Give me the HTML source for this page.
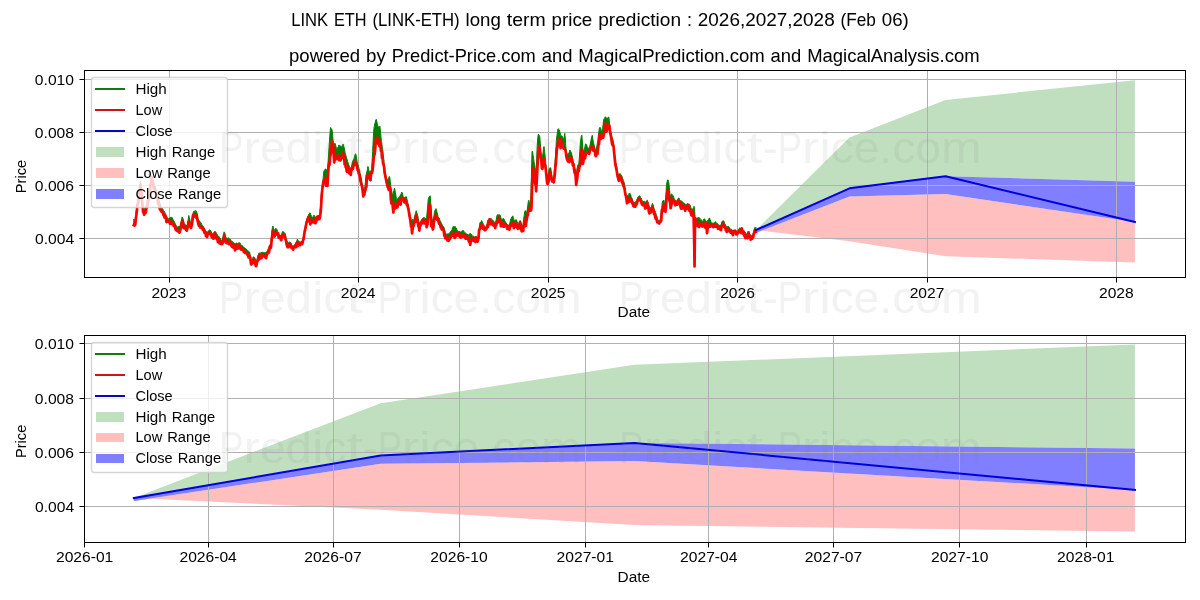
<!DOCTYPE html>
<html lang="en"><head><meta charset="utf-8"><title>LINK ETH (LINK-ETH) long term price prediction</title>
<style>
html,body{margin:0;padding:0;background:#fff;}
body{width:1200px;height:600px;overflow:hidden;}
svg{display:block;font-family:"Liberation Sans",sans-serif;will-change:transform;}
text{white-space:pre;}
</style></head><body>
<svg width="1200" height="600" viewBox="0 0 1200 600">
<rect width="1200" height="600" fill="#fff"/>
<defs>
<clipPath id="c0"><rect x="84.5" y="70.5" width="1101" height="207"/></clipPath>
<clipPath id="c1"><rect x="84.5" y="335.5" width="1101" height="207"/></clipPath>
</defs>
<g clip-path="url(#c0)">
<polygon points="756.09,229.91 849.51,137.43 945.52,99.98 1134.94,80.16 1134.94,181.63 945.52,176.17 849.51,188.36 756.09,229.91" fill="#bfdfbf"/>
<polygon points="756.09,232.83 849.51,196.55 945.52,193.93 1134.94,222.02 1134.94,262.62 945.52,256.25 849.51,241.34 756.09,229.91" fill="#ffbfbf"/>
<polygon points="756.09,229.91 849.51,188.36 945.52,176.17 1134.94,181.63 1134.94,222.02 945.52,193.93 849.51,196.55 756.09,232.83" fill="#7f7fff"/>
<path d="M169.5,71V277M358.5,71V277M548.5,71V277M737.5,71V277M927.5,71V277M1116.5,71V277M85,79.5H1185M85,132.5H1185M85,185.5H1185M85,238.5H1185" stroke="#b0b0b0" stroke-width="1" fill="none" shape-rendering="crispEdges"/>
<polygon points="133.8,219.09 134.32,219.78 134.84,221.24 135.36,219.17 135.88,215.03 136.4,210.65 136.92,206.21 137.43,202.58 137.95,198.73 138.47,195.45 138.99,192.03 139.51,187.82 140.03,184.38 140.55,180.79 141.07,186.21 141.59,191.69 142.11,196.59 142.63,202.41 143.15,207.4 143.66,209.05 144.18,208.61 144.7,208.05 145.22,207.38 145.74,206.16 146.26,205.01 146.78,204.84 147.3,202.35 147.82,199.24 148.34,195.83 148.86,192.71 149.38,189.37 149.9,186.12 150.41,182.35 150.93,179.54 151.45,175.7 151.97,176.35 152.49,178.63 153.01,179.77 153.53,180.9 154.05,183.49 154.57,184.98 155.09,186.69 155.61,188.03 156.13,189.74 156.64,191.39 157.16,193.1 157.68,195.75 158.2,196.95 158.72,198.78 159.24,200.67 159.76,203.34 160.28,204.87 160.8,206.18 161.32,207.07 161.84,208.04 162.36,208.95 162.88,208.86 163.39,210.51 163.91,210.9 164.43,211.53 164.95,212.67 165.47,214.12 165.99,215.5 166.51,215.98 167.03,217.16 167.55,217.72 168.07,219.22 168.59,219.08 169.11,218.01 169.62,218.1 170.14,218.29 170.66,217.14 171.18,217.37 171.7,217.45 172.22,217.51 172.74,218.91 173.26,220.02 173.78,221.27 174.3,221.46 174.82,223.25 175.34,223.92 175.86,225.18 176.37,226.12 176.89,226.78 177.41,227.41 177.93,226.46 178.45,226.42 178.97,226.37 179.49,226.43 180.01,226.63 180.53,223.48 181.05,221.79 181.57,219.24 182.09,216.96 182.6,217.7 183.12,219.16 183.64,221.65 184.16,223.44 184.68,224.3 185.2,224.32 185.72,226.04 186.24,225.52 186.76,225.61 187.28,226.59 187.8,222.84 188.32,218.65 188.84,215.5 189.35,217.84 189.87,219.97 190.39,222.37 190.91,224.14 191.43,221.8 191.95,219.1 192.47,215.97 192.99,213.22 193.51,211.54 194.03,211.45 194.55,210.93 195.07,211.72 195.58,210.56 196.1,210.98 196.62,211.21 197.14,214.24 197.66,216.98 198.18,218.75 198.7,220.36 199.22,220.44 199.74,222.17 200.26,222.15 200.78,222.37 201.3,223.3 201.82,224.63 202.33,225.31 202.85,225.86 203.37,226.14 203.89,227.4 204.41,229.07 204.93,229.28 205.45,230.46 205.97,231.28 206.49,232.25 207.01,232.7 207.53,231.88 208.05,231.21 208.56,230.64 209.08,230.19 209.6,229.75 210.12,229.96 210.64,230.82 211.16,231.55 211.68,233.26 212.2,233.68 212.72,233.93 213.24,233.49 213.76,232.73 214.28,232.15 214.8,231.35 215.31,231.47 215.83,232.22 216.35,233.16 216.87,233.63 217.39,234.79 217.91,235.77 218.43,236.4 218.95,236.48 219.47,237.28 219.99,238.8 220.51,238.65 221.03,239.91 221.54,240.52 222.06,240.84 222.58,238.67 223.1,236.71 223.62,233.95 224.14,231.82 224.66,232.6 225.18,234.9 225.7,237.66 226.22,238.19 226.74,237.87 227.26,238.23 227.78,238.08 228.29,237.66 228.81,238.4 229.33,238.86 229.85,239.2 230.37,239.13 230.89,240.57 231.41,240.98 231.93,241.42 232.45,241.75 232.97,241.64 233.49,242.57 234.01,242.65 234.52,243.96 235.04,243.6 235.56,243.91 236.08,243.03 236.6,243.06 237.12,243.18 237.64,243.51 238.16,243.35 238.68,243.16 239.2,242.3 239.72,243.44 240.24,243.24 240.76,244.65 241.27,245.26 241.79,245.41 242.31,245.99 242.83,245.72 243.35,247.58 243.87,247.28 244.39,248.03 244.91,247.81 245.43,248.52 245.95,248.56 246.47,249.32 246.99,249.84 247.5,250.36 248.02,251.19 248.54,251.3 249.06,251.65 249.58,252.01 250.1,255.09 250.62,256.77 251.14,259.98 251.66,260.05 252.18,259.13 252.7,258.29 253.22,256.79 253.74,256.91 254.25,257.96 254.77,257.73 255.29,259.09 255.81,260.61 256.33,261.07 256.85,259.47 257.37,257.81 257.89,255.81 258.41,254.63 258.93,252.88 259.45,253.02 259.97,253.44 260.48,253.31 261,252.32 261.52,252.55 262.04,252.82 262.56,252.12 263.08,252.09 263.6,252.54 264.12,252.64 264.64,252.62 265.16,252.53 265.68,252.7 266.2,252.84 266.72,251.45 267.23,250.94 267.75,249.61 268.27,248.51 268.79,247.67 269.31,246.34 269.83,245.14 270.35,243.91 270.87,242.85 271.39,238.46 271.91,230.67 272.43,227.35 272.95,225.94 273.46,228.27 273.98,230.29 274.5,230.23 275.02,229.44 275.54,228.55 276.06,228.75 276.58,228.78 277.1,230.01 277.62,231.51 278.14,232.19 278.66,234.52 279.18,235.03 279.7,234.93 280.21,235.98 280.73,236.47 281.25,235.14 281.77,234.14 282.29,231.7 282.81,231.59 283.33,231.82 283.85,231.99 284.37,233.26 284.89,233.19 285.41,233.84 285.93,237.07 286.44,240.64 286.96,241.32 287.48,241.67 288,242.94 288.52,242.65 289.04,242.91 289.56,241.84 290.08,241.93 290.6,242.7 291.12,243.41 291.64,245 292.16,246.08 292.68,245.68 293.19,246.06 293.71,245.98 294.23,245.5 294.75,244.97 295.27,244.28 295.79,242.82 296.31,242.11 296.83,240.82 297.35,239.18 297.87,240.22 298.39,241.07 298.91,240.84 299.42,241.85 299.94,242.02 300.46,242.05 300.98,242.5 301.5,241.27 302.02,241.26 302.54,240.81 303.06,238.84 303.58,235.63 304.1,232.68 304.62,229.45 305.14,226.46 305.66,223.76 306.17,222.06 306.69,219.88 307.21,218.35 307.73,216.22 308.25,215.74 308.77,214.2 309.29,213.87 309.81,212.7 310.33,213.12 310.85,214.76 311.37,216.01 311.89,216.7 312.4,217.23 312.92,217.55 313.44,216.38 313.96,215.09 314.48,215.68 315,216.74 315.52,217.58 316.04,216.68 316.56,216.36 317.08,215.75 317.6,215.82 318.12,216.34 318.64,215.25 319.15,216.62 319.67,214.94 320.19,209.65 320.71,204.18 321.23,195.4 321.75,191.11 322.27,185.77 322.79,182.15 323.31,176.59 323.83,171.58 324.35,170.36 324.87,169.53 325.38,169.08 325.9,169.07 326.42,169.88 326.94,173.13 327.46,171.15 327.98,163.57 328.5,156 329.02,147.62 329.54,140.18 330.06,132.53 330.58,127.45 331.1,128.67 331.62,128.97 332.13,130.15 332.65,135.41 333.17,142.26 333.69,147.24 334.21,144.73 334.73,143.29 335.25,143.58 335.77,145.77 336.29,147.49 336.81,148.66 337.33,148.62 337.85,147.39 338.36,146.82 338.88,144.97 339.4,145.19 339.92,146.34 340.44,145.9 340.96,147.07 341.48,147.23 342,146.12 342.52,145.16 343.04,144.09 343.56,145.23 344.08,147.26 344.6,149.72 345.11,153.06 345.63,154.52 346.15,156.41 346.67,158.41 347.19,159.81 347.71,161.71 348.23,163.1 348.75,165.09 349.27,166.25 349.79,167.57 350.31,170.02 350.83,170.02 351.34,167.54 351.86,164.97 352.38,161.68 352.9,160.86 353.42,159.56 353.94,158.78 354.46,157.1 354.98,154.89 355.5,153.68 356.02,154.89 356.54,158.1 357.06,161.42 357.58,163.91 358.09,165.15 358.61,166.88 359.13,169.21 359.65,170.24 360.17,173.57 360.69,175.63 361.21,178.22 361.73,181.14 362.25,184.17 362.77,185.49 363.29,188.25 363.81,190.21 364.32,191.56 364.84,187.69 365.36,182.39 365.88,177.49 366.4,174.1 366.92,171.54 367.44,169.42 367.96,166.37 368.48,169.04 369,170.67 369.52,172.42 370.04,173.1 370.56,172.44 371.07,170.6 371.59,169.51 372.11,160.81 372.63,151.39 373.15,141.29 373.67,131.29 374.19,126.61 374.71,123.92 375.23,122.57 375.75,120.06 376.27,119.36 376.79,121.39 377.3,123.69 377.82,126.19 378.34,127.08 378.86,126.79 379.38,126.57 379.9,126.1 380.42,131.05 380.94,136.84 381.46,141.55 381.98,145.02 382.5,148.21 383.02,152.13 383.54,156.96 384.05,162.45 384.57,167.3 385.09,171.4 385.61,174.45 386.13,176.42 386.65,179.07 387.17,180.68 387.69,179.86 388.21,178.88 388.73,177.89 389.25,176.42 389.77,177.48 390.28,181.46 390.8,186.66 391.32,189.97 391.84,191.55 392.36,194.45 392.88,195.04 393.4,193.13 393.92,190.25 394.44,188.21 394.96,190.43 395.48,192.64 396,196.3 396.52,199.47 397.03,199.04 397.55,199.09 398.07,198.47 398.59,197.59 399.11,197.81 399.63,196.42 400.15,195.56 400.67,194.42 401.19,193.69 401.71,192.03 402.23,192.99 402.75,194.42 403.26,197.75 403.78,197.94 404.3,197.84 404.82,197.34 405.34,197.12 405.86,196.79 406.38,196.76 406.9,198.83 407.42,201.28 407.94,203.34 408.46,205.91 408.98,208.97 409.5,211.57 410.01,214.71 410.53,216.92 411.05,220.53 411.57,220.44 412.09,220.8 412.61,219.39 413.13,220.36 413.65,220.3 414.17,218.6 414.69,216.15 415.21,214.24 415.73,212.22 416.24,210.67 416.76,212.38 417.28,214.23 417.8,215.99 418.32,218.5 418.84,220.83 419.36,222.98 419.88,225.6 420.4,223.1 420.92,221.86 421.44,219.64 421.96,219.05 422.48,218.38 422.99,218.27 423.51,217.56 424.03,217.2 424.55,217.94 425.07,218.47 425.59,218.29 426.11,218.38 426.63,217.57 427.15,211.93 427.67,206.13 428.19,199.77 428.71,197.44 429.22,196.59 429.74,196.21 430.26,195.79 430.78,204.35 431.3,213.15 431.82,217.93 432.34,219.85 432.86,221.32 433.38,219.38 433.9,216.25 434.42,212.22 434.94,210.45 435.46,209.45 435.97,208.62 436.49,209.7 437.01,212.32 437.53,214.01 438.05,216.66 438.57,217.31 439.09,217.83 439.61,219.79 440.13,220.48 440.65,221.52 441.17,222.66 441.69,223.74 442.2,224.77 442.72,225.82 443.24,226.57 443.76,227.03 444.28,228.21 444.8,230.22 445.32,232.45 445.84,234.37 446.36,234.7 446.88,233.6 447.4,234.1 447.92,233.99 448.44,233.93 448.95,233.67 449.47,232.94 449.99,232.33 450.51,231.6 451.03,231.29 451.55,230.44 452.07,229.56 452.59,227.72 453.11,226.46 453.63,226.65 454.15,226.45 454.67,227.1 455.18,226.45 455.7,227.45 456.22,227.95 456.74,229.3 457.26,230.48 457.78,231.87 458.3,231.27 458.82,231.81 459.34,231.13 459.86,231.61 460.38,231.92 460.9,231.75 461.42,231.67 461.93,231.35 462.45,230.16 462.97,230.7 463.49,230.64 464.01,232.19 464.53,232.18 465.05,232.64 465.57,233.04 466.09,233.48 466.61,233.86 467.13,233.99 467.65,234.87 468.16,235.07 468.68,234.86 469.2,234.18 469.72,234.04 470.24,233.14 470.76,234.7 471.28,233.98 471.8,234.85 472.32,236.11 472.84,236.62 473.36,236.26 473.88,236.3 474.4,236.74 474.91,237.23 475.43,237.38 475.95,236.42 476.47,237.64 476.99,237.6 477.51,236.87 478.03,237.12 478.55,236.06 479.07,228.95 479.59,224.55 480.11,222.34 480.63,222.21 481.14,221.83 481.66,220.47 482.18,221.7 482.7,223.04 483.22,223.76 483.74,224.72 484.26,225.93 484.78,226.53 485.3,227.36 485.82,226.95 486.34,226.65 486.86,224.89 487.38,222.09 487.89,219.96 488.41,219.93 488.93,219.74 489.45,218.46 489.97,219.04 490.49,218.5 491.01,218.23 491.53,219.45 492.05,219.91 492.57,219.85 493.09,220.41 493.61,221.22 494.12,221.93 494.64,222.47 495.16,223.86 495.68,221.62 496.2,220.01 496.72,216.61 497.24,215 497.76,214.57 498.28,214.96 498.8,214.75 499.32,215.01 499.84,214.55 500.36,215.65 500.87,217.68 501.39,219.22 501.91,219.6 502.43,219.37 502.95,218.51 503.47,218.61 503.99,219.07 504.51,220.07 505.03,221.85 505.55,221.86 506.07,222.8 506.59,223.66 507.1,224.09 507.62,224.62 508.14,225.83 508.66,226.19 509.18,225.12 509.7,223.76 510.22,221.37 510.74,218.96 511.26,218.36 511.78,216.96 512.3,216.67 512.82,215.83 513.34,217.44 513.85,219.4 514.37,220.44 514.89,220.84 515.41,219.99 515.93,219.55 516.45,219.84 516.97,221.35 517.49,222.3 518.01,223.85 518.53,225.02 519.05,222.61 519.57,221.23 520.08,220.61 520.6,221.76 521.12,223.5 521.64,225.54 522.16,227.17 522.68,225.88 523.2,222.9 523.72,218.86 524.24,215.31 524.76,211.87 525.28,210.54 525.8,211.61 526.32,212.31 526.83,212.68 527.35,209.14 527.87,205.01 528.39,201.12 528.91,200.28 529.43,203.03 529.95,205.11 530.47,207.79 530.99,192.07 531.51,172.14 532.03,151.37 532.55,151.36 533.06,155.19 533.58,158.7 534.1,162.21 534.62,164.46 535.14,167.88 535.66,170.52 536.18,172.13 536.7,158.7 537.22,145.99 537.74,138.19 538.26,134.31 538.78,134.45 539.3,135.46 539.81,136.76 540.33,143.55 540.85,151.06 541.37,155.13 541.89,156.75 542.41,157.38 542.93,153.58 543.45,149.38 543.97,146.51 544.49,151.18 545.01,155.08 545.53,160.16 546.04,166.47 546.56,172.27 547.08,174.45 547.6,176.14 548.12,174.84 548.64,171.71 549.16,168.81 549.68,167.9 550.2,168.11 550.72,167.65 551.24,171.63 551.76,175.43 552.28,178.36 552.79,178.47 553.31,178.6 553.83,177.93 554.35,171.19 554.87,163.64 555.39,156.57 555.91,148.4 556.43,140.55 556.95,135.56 557.47,131.75 557.99,128.75 558.51,129.09 559.02,129.44 559.54,131.03 560.06,132.6 560.58,135.44 561.1,135.8 561.62,135.92 562.14,135.91 562.66,137.78 563.18,138.38 563.7,139.5 564.22,136.58 564.74,133.33 565.26,137.83 565.77,145.88 566.29,152.18 566.81,153.54 567.33,154.12 567.85,154.32 568.37,154.77 568.89,152.79 569.41,151.94 569.93,150.11 570.45,150.98 570.97,151.97 571.49,152.71 572,155.34 572.52,157.28 573.04,160.77 573.56,163.06 574.08,165.62 574.6,167.45 575.12,168.97 575.64,171.25 576.16,171.76 576.68,171.59 577.2,167.76 577.72,165.2 578.24,164.48 578.75,163.76 579.27,159.4 579.79,151.41 580.31,142.8 580.83,139.15 581.35,136.08 581.87,135.18 582.39,142.08 582.91,149.08 583.43,151.97 583.95,150.66 584.47,149.06 584.98,146.61 585.5,143.97 586.02,143.9 586.54,144.92 587.06,146.19 587.58,147.61 588.1,147.78 588.62,148.59 589.14,148.09 589.66,146.89 590.18,144.35 590.7,141.81 591.22,139.12 591.73,137 592.25,135.33 592.77,138.52 593.29,142.06 593.81,143.9 594.33,145.72 594.85,148.34 595.37,150.19 595.89,152.36 596.41,149.02 596.93,145.61 597.45,142.76 597.96,139.38 598.48,134.71 599,130.5 599.52,127.58 600.04,127.46 600.56,127.84 601.08,129.97 601.6,132.42 602.12,133.9 602.64,128.86 603.16,123.81 603.68,119.43 604.2,118.63 604.71,117.93 605.23,116.81 605.75,116.99 606.27,118.52 606.79,118.18 607.31,118.47 607.83,117.81 608.35,117.05 608.87,117.28 609.39,121.8 609.91,126.39 610.43,129.78 610.94,132.66 611.46,135.34 611.98,137.24 612.5,138.45 613.02,140.03 613.54,141.98 614.06,147.62 614.58,154.29 615.1,158.22 615.62,161.23 616.14,163.94 616.66,165.71 617.18,169.88 617.69,172.82 618.21,175.23 618.73,174.64 619.25,173.82 619.77,174.03 620.29,173.6 620.81,174.56 621.33,175.46 621.85,175.79 622.37,177.84 622.89,179.04 623.41,180.59 623.92,182.06 624.44,183.2 624.96,187.4 625.48,190.97 626,195.45 626.52,195.02 627.04,195.24 627.56,196.03 628.08,196.35 628.6,194.78 629.12,193.26 629.64,193.76 630.16,193.39 630.67,194.72 631.19,196.76 631.71,197.63 632.23,198.85 632.75,200.89 633.27,201.67 633.79,202.26 634.31,202.29 634.83,202.8 635.35,202.76 635.87,201.13 636.39,200.88 636.9,199.26 637.42,198.52 637.94,197.04 638.46,196.85 638.98,196.24 639.5,195.63 640.02,196.24 640.54,197.48 641.06,198.18 641.58,199.13 642.1,200.81 642.62,200.96 643.14,201.6 643.65,201.5 644.17,201.16 644.69,201.56 645.21,202.03 645.73,202.16 646.25,201.25 646.77,200.52 647.29,200.14 647.81,201.71 648.33,203.14 648.85,204.81 649.37,206.99 649.88,207.41 650.4,207.99 650.92,207.82 651.44,206.81 651.96,204.93 652.48,203.24 653,204.61 653.52,206.3 654.04,208.58 654.56,210.22 655.08,210.99 655.6,212.4 656.12,214.15 656.63,215.59 657.15,218 657.67,219.78 658.19,220.2 658.71,220.31 659.23,220.75 659.75,221.15 660.27,218.55 660.79,215.56 661.31,212.67 661.83,207.31 662.35,201.85 662.86,200.77 663.38,200.87 663.9,200.04 664.42,202.94 664.94,204.47 665.46,203.57 665.98,194.49 666.5,184.54 667.02,182.23 667.54,180.03 668.06,179.77 668.58,181.53 669.1,184.81 669.61,190.67 670.13,196.21 670.65,195.7 671.17,194.61 671.69,193.76 672.21,194.67 672.73,195.27 673.25,195.96 673.77,197.4 674.29,199.19 674.81,200.88 675.33,199.8 675.84,201.5 676.36,201.5 676.88,201.1 677.4,199.7 677.92,198.93 678.44,198.02 678.96,197.9 679.48,199.46 680,200 680.52,201.07 681.04,201.06 681.56,201.02 682.08,201.36 682.59,202.04 683.11,202.39 683.63,203.05 684.15,203.12 684.67,203.45 685.19,204.21 685.71,204.43 686.23,204.57 686.75,204.7 687.27,203.75 687.79,203.7 688.31,204.39 688.82,203.95 689.34,204.13 689.86,204.63 690.38,206 690.9,207.56 691.42,209.33 691.94,209.17 692.46,208.69 692.98,209.69 693.5,208.5 694.02,206.25 694.54,209.22 695.06,217 695.57,218.29 696.09,217.74 696.61,218.7 697.13,218.27 697.65,217.65 698.17,217.52 698.69,217.6 699.21,217.72 699.73,217.99 700.25,219.11 700.77,219.64 701.29,219.65 701.8,221.03 702.32,221.79 702.84,221.66 703.36,219.67 703.88,219.01 704.4,218.76 704.92,219.3 705.44,220.46 705.96,221.37 706.48,221.38 707,221.67 707.52,220.45 708.04,219.8 708.55,219.55 709.07,218.28 709.59,218 710.11,219.6 710.63,220.97 711.15,222.26 711.67,222.8 712.19,223.25 712.71,223.07 713.23,223.39 713.75,222.68 714.27,222.78 714.78,222.38 715.3,221.61 715.82,221.96 716.34,223.46 716.86,223.58 717.38,223.47 717.9,223.71 718.42,224.59 718.94,225.52 719.46,225.3 719.98,225.81 720.5,225.41 721.02,224.52 721.53,223.48 722.05,221.25 722.57,221.11 723.09,220.77 723.61,220.85 724.13,221.69 724.65,223.43 725.17,224.23 725.69,225.54 726.21,226.93 726.73,226.81 727.25,226.87 727.76,226.28 728.28,226.13 728.8,226.94 729.32,227.54 729.84,227.85 730.36,229.55 730.88,229.47 731.4,229.42 731.92,229.44 732.44,230.61 732.96,230.79 733.48,230.17 734,230.55 734.51,229.83 735.03,230.1 735.55,229.77 736.07,230.8 736.59,231.5 737.11,231.39 737.63,230.76 738.15,229.99 738.67,229.13 739.19,228.74 739.71,227.72 740.23,228.77 740.74,228.07 741.26,228.47 741.78,227.56 742.3,229.3 742.82,229.55 743.34,230.29 743.86,230.52 744.38,231.93 744.9,232.17 745.42,232.81 745.94,233.9 746.46,234.46 746.98,233.75 747.49,233 748.01,232.67 748.53,231.26 749.05,233.48 749.57,233.95 750.09,234.34 750.61,235.17 751.13,235.12 751.65,235.38 752.17,235.79 752.69,235.68 753.21,233.82 753.72,231.14 754.24,229.26 754.76,227.53 755.28,228.01 755.8,227.34 755.8,231.99 755.28,230.51 754.76,230.91 754.24,233.2 753.72,233.62 753.21,237.32 752.69,237.61 752.17,238.85 751.65,239.06 751.13,237.65 750.61,239.59 750.09,235.9 749.57,236.96 749.05,237.02 748.53,232.26 748.01,236.24 747.49,238.32 746.98,237.04 746.46,237.24 745.94,237.28 745.42,238.15 744.9,233.35 744.38,236.19 743.86,231.9 743.34,234.01 742.82,231.42 742.3,231.69 741.78,228.56 741.26,233.1 740.74,229.91 740.23,232.04 739.71,230.32 739.19,231.6 738.67,232.3 738.15,233.14 737.63,233.08 737.11,234.35 736.59,234.3 736.07,234.37 735.55,231.42 735.03,232.14 734.51,231.28 734,231.67 733.48,231.17 732.96,235.11 732.44,233.85 731.92,233 731.4,232.72 730.88,232.73 730.36,232.21 729.84,231.22 729.32,229.74 728.8,230.35 728.28,230.34 727.76,231.26 727.25,229.12 726.73,231.92 726.21,230 725.69,230.04 725.17,226.92 724.65,225.75 724.13,227.08 723.61,226.29 723.09,225.37 722.57,223.68 722.05,225.9 721.53,226.05 721.02,230.18 720.5,229.07 719.98,229.42 719.46,229.1 718.94,228.13 718.42,227.43 717.9,228.62 717.38,226.6 716.86,226.65 716.34,226.5 715.82,224.59 715.3,226.73 714.78,226.53 714.27,225.76 713.75,226.97 713.23,227.15 712.71,224.95 712.19,226.05 711.67,226.22 711.15,225.89 710.63,225.98 710.11,226.59 709.59,224.42 709.07,226.9 708.55,225.05 708.04,227.45 707.52,229.55 707,233.26 706.48,223.31 705.96,228.24 705.44,222.91 704.92,227.4 704.4,226.01 703.88,226.11 703.36,223.78 702.84,224 702.32,226.45 701.8,225.73 701.29,224.84 700.77,224.17 700.25,223.25 699.73,224.09 699.21,226.98 698.69,226.93 698.17,225.16 697.65,225.94 697.13,224.47 696.61,221.73 696.09,220.36 695.57,219.54 695.06,218.37 694.54,266.4 694.02,232.59 693.5,213.47 692.98,216.16 692.46,210.97 691.94,214.11 691.42,215.47 690.9,213.49 690.38,210.61 689.86,209.69 689.34,210.8 688.82,207.72 688.31,209.13 687.79,204.73 687.27,208.49 686.75,208.56 686.23,208.25 685.71,208.04 685.19,210.83 684.67,209.28 684.15,207.01 683.63,205.89 683.11,205.46 682.59,207.02 682.08,208.64 681.56,206.2 681.04,208.63 680.52,206.93 680,203.19 679.48,204.5 678.96,201.06 678.44,201.07 677.92,200.78 677.4,202.01 676.88,204.66 676.36,204.82 675.84,203.73 675.33,205.36 674.81,204.09 674.29,202.06 673.77,202 673.25,200.2 672.73,201.24 672.21,199.22 671.69,203.63 671.17,205.86 670.65,208.27 670.13,202.08 669.61,201.35 669.1,198.73 668.58,192.03 668.06,190.76 667.54,189.84 667.02,193.97 666.5,198.08 665.98,207.3 665.46,211.77 664.94,211.11 664.42,209.89 663.9,204.3 663.38,205.27 662.86,209.62 662.35,211.59 661.83,210.12 661.31,220.22 660.79,221.66 660.27,221.82 659.75,222.27 659.23,223.61 658.71,223.11 658.19,222.23 657.67,221.7 657.15,222.28 656.63,219.01 656.12,217.3 655.6,218.7 655.08,216.43 654.56,214.32 654.04,214.05 653.52,209.74 653,210.12 652.48,206.4 651.96,207.89 651.44,209.62 650.92,212.45 650.4,212.42 649.88,210.85 649.37,213.39 648.85,211.62 648.33,207.71 647.81,206.48 647.29,203.1 646.77,207.41 646.25,207.91 645.73,207.87 645.21,208.54 644.69,205.64 644.17,204.27 643.65,204.11 643.14,204.1 642.62,205.16 642.1,204.5 641.58,203.5 641.06,201.38 640.54,199.29 640.02,199.73 639.5,200.04 638.98,198.53 638.46,200.12 637.94,199.93 637.42,201.45 636.9,203.72 636.39,204.69 635.87,203.76 635.35,206.52 634.83,205.73 634.31,206.56 633.79,206.37 633.27,205.74 632.75,204.01 632.23,202.84 631.71,200.37 631.19,200.94 630.67,200.39 630.16,201.46 629.64,197.81 629.12,199.57 628.6,202.02 628.08,200.56 627.56,200.89 627.04,203.25 626.52,199.47 626,196.45 625.48,194.91 624.96,191.73 624.44,188.3 623.92,187.2 623.41,185.61 622.89,184.03 622.37,182.65 621.85,181.87 621.33,179.29 620.81,177.45 620.29,176.41 619.77,176.8 619.25,179.6 618.73,180.82 618.21,178.2 617.69,176.73 617.18,173.76 616.66,170.65 616.14,168.03 615.62,165.73 615.1,162.65 614.58,156.92 614.06,152.05 613.54,146.64 613.02,144.88 612.5,145.09 611.98,143.61 611.46,139.88 610.94,136.12 610.43,133.89 609.91,130.5 609.39,125.96 608.87,125.1 608.35,125.45 607.83,129.05 607.31,127.93 606.79,131.13 606.27,131.68 605.75,128.19 605.23,123.42 604.71,128.52 604.2,132.71 603.68,135.46 603.16,137.81 602.64,137.91 602.12,137.1 601.6,135.96 601.08,134.85 600.56,139.23 600.04,133.75 599.52,136.03 599,144.35 598.48,144.53 597.96,149.92 597.45,153.96 596.93,152.69 596.41,154.85 595.89,156.15 595.37,155.47 594.85,150.6 594.33,150.11 593.81,147.67 593.29,150.76 592.77,147.83 592.25,146.19 591.73,147.21 591.22,149.24 590.7,147.43 590.18,148.8 589.66,152.17 589.14,153.88 588.62,152.09 588.1,152.79 587.58,152.08 587.06,152.83 586.54,152.62 586.02,152.93 585.5,155.64 584.98,158.44 584.47,153.81 583.95,158.61 583.43,160.91 582.91,163.89 582.39,155.41 581.87,149.49 581.35,149.85 580.83,156.8 580.31,164.55 579.79,165.99 579.27,167.62 578.75,171.25 578.24,168.2 577.72,172.84 577.2,178.8 576.68,181.43 576.16,184.95 575.64,176.13 575.12,172.18 574.6,172.69 574.08,169.05 573.56,164.06 573.04,165.69 572.52,163.01 572,159.76 571.49,157.99 570.97,159.84 570.45,157.4 569.93,159.72 569.41,162.2 568.89,159.73 568.37,158.28 567.85,161.43 567.33,159.66 566.81,158.8 566.29,155.95 565.77,151.84 565.26,149.73 564.74,149.03 564.22,148.66 563.7,148.51 563.18,147.59 562.66,145.91 562.14,143.6 561.62,144.45 561.1,141.22 560.58,148.2 560.06,140.06 559.54,138.57 559.02,138.25 558.51,141.23 557.99,142.89 557.47,147.38 556.95,148.31 556.43,156.09 555.91,162.82 555.39,167.36 554.87,173.39 554.35,177.97 553.83,182.26 553.31,181.7 552.79,180.96 552.28,181.45 551.76,180.02 551.24,176.95 550.72,174.46 550.2,171.63 549.68,173.64 549.16,176.09 548.64,181.48 548.12,182.81 547.6,184.22 547.08,182.38 546.56,177.36 546.04,172.43 545.53,167.08 545.01,164.69 544.49,163.86 543.97,158.92 543.45,162.79 542.93,165.33 542.41,168.91 541.89,168.23 541.37,160.72 540.85,158.07 540.33,153.36 539.81,152.03 539.3,146.33 538.78,147.85 538.26,151.13 537.74,161.88 537.22,172.13 536.7,181.42 536.18,191.28 535.66,183.63 535.14,183.82 534.62,180.16 534.1,176.43 533.58,174.31 533.06,167.51 532.55,173.37 532.03,187.71 531.51,207.13 530.99,210.62 530.47,209.58 529.95,210.68 529.43,210.61 528.91,211.32 528.39,208.49 527.87,215.57 527.35,215.36 526.83,218.97 526.32,221.83 525.8,226.03 525.28,220.07 524.76,219.9 524.24,223.41 523.72,226.18 523.2,231 522.68,228.2 522.16,229.7 521.64,231.36 521.12,228.23 520.6,225.7 520.08,222.16 519.57,225.02 519.05,228.4 518.53,226.21 518.01,228.82 517.49,227.69 516.97,227.63 516.45,224.65 515.93,223.6 515.41,225.98 514.89,226.9 514.37,225.03 513.85,228.26 513.34,222.22 512.82,222.69 512.3,222.28 511.78,223.8 511.26,225.98 510.74,224.61 510.22,224.87 509.7,229.17 509.18,229.58 508.66,227.19 508.14,228.05 507.62,225.86 507.1,228.86 506.59,226.27 506.07,224.45 505.55,224.84 505.03,225.94 504.51,225.15 503.99,226.72 503.47,225.16 502.95,222.67 502.43,223.46 501.91,226.37 501.39,225.35 500.87,226.25 500.36,221.29 499.84,220.53 499.32,221.39 498.8,217.65 498.28,222.08 497.76,221.37 497.24,221.16 496.72,222.45 496.2,225.57 495.68,224.66 495.16,228.06 494.64,225.74 494.12,225.86 493.61,223.7 493.09,225.29 492.57,222.91 492.05,222.48 491.53,222.25 491.01,224.24 490.49,223.49 489.97,222.48 489.45,219.46 488.93,223.12 488.41,225.29 487.89,227.08 487.38,225.29 486.86,226.83 486.34,229.11 485.82,229.64 485.3,229.44 484.78,230.34 484.26,227.72 483.74,229.06 483.22,228.74 482.7,228.32 482.18,227.42 481.66,224.61 481.14,224.54 480.63,226.52 480.11,228.56 479.59,229.67 479.07,229.95 478.55,238.24 478.03,240.28 477.51,241.67 476.99,238.73 476.47,238.64 475.95,237.42 475.43,242.04 474.91,239.22 474.4,240.67 473.88,239.73 473.36,240.99 472.84,239.02 472.32,237.78 471.8,239.66 471.28,239.93 470.76,241.39 470.24,244.88 469.72,242.42 469.2,241.9 468.68,240.91 468.16,238.3 467.65,237.02 467.13,236.65 466.61,238.7 466.09,237.75 465.57,238.61 465.05,236.85 464.53,234.89 464.01,235.64 463.49,234.6 462.97,236.62 462.45,235.21 461.93,236.98 461.42,235.51 460.9,235.5 460.38,237.65 459.86,234.48 459.34,236.43 458.82,234.48 458.3,235.5 457.78,234.78 457.26,232.05 456.74,235.31 456.22,236.33 455.7,235.79 455.18,237.22 454.67,237.94 454.15,235.19 453.63,233.55 453.11,234.6 452.59,232.51 452.07,236.01 451.55,234.75 451.03,237.06 450.51,236.4 449.99,239.01 449.47,237.27 448.95,240.41 448.44,240.88 447.92,238.02 447.4,240.37 446.88,236.83 446.36,236.58 445.84,237.49 445.32,238.36 444.8,235.31 444.28,235.61 443.76,230.89 443.24,230.14 442.72,228.01 442.2,227.84 441.69,229.34 441.17,227.23 440.65,227.62 440.13,224.61 439.61,223.74 439.09,223.71 438.57,222.16 438.05,219.11 437.53,219.14 437.01,219.64 436.49,218.21 435.97,219.01 435.46,215.11 434.94,217.23 434.42,217.9 433.9,222.4 433.38,227.24 432.86,229.52 432.34,227.27 431.82,224.35 431.3,226.26 430.78,215.15 430.26,206.17 429.74,204.15 429.22,206.91 428.71,211.39 428.19,217.21 427.67,224.25 427.15,225.11 426.63,227.24 426.11,221.04 425.59,222.22 425.07,221.39 424.55,223.37 424.03,222.17 423.51,220.26 422.99,219.67 422.48,222.97 421.96,223.42 421.44,221.87 420.92,223.04 420.4,225.84 419.88,226.6 419.36,230.63 418.84,227.5 418.32,225.98 417.8,222.89 417.28,220.23 416.76,220.64 416.24,215.51 415.73,216.38 415.21,221.84 414.69,222.18 414.17,223.66 413.65,225.87 413.13,225.79 412.61,229.07 412.09,233.46 411.57,226.55 411.05,226.71 410.53,221.58 410.01,218.33 409.5,216.11 408.98,212.47 408.46,209.41 407.94,207.55 407.42,204.66 406.9,205.03 406.38,203.4 405.86,201.57 405.34,200.06 404.82,199.94 404.3,202.4 403.78,198.94 403.26,199.77 402.75,198.48 402.23,197.8 401.71,198.53 401.19,200.72 400.67,204.68 400.15,199.16 399.63,200.81 399.11,200.71 398.59,202.62 398.07,204.83 397.55,207.24 397.03,206.08 396.52,203.85 396,207.7 395.48,204.97 394.96,206.73 394.44,209.09 393.92,203.89 393.4,212.51 392.88,208.05 392.36,202.24 391.84,202.86 391.32,203.44 390.8,198.31 390.28,189.01 389.77,187.11 389.25,189.87 388.73,189.91 388.21,187.3 387.69,187.28 387.17,184.54 386.65,182.68 386.13,180.02 385.61,177.8 385.09,174.9 384.57,172.46 384.05,166.8 383.54,164.49 383.02,163.31 382.5,156.54 381.98,157.86 381.46,150.37 380.94,150.83 380.42,145.01 379.9,141.51 379.38,146.09 378.86,144.63 378.34,143.8 377.82,142.23 377.3,137.74 376.79,138.6 376.27,137.66 375.75,141.2 375.23,148.8 374.71,153.91 374.19,155.16 373.67,158.34 373.15,164.92 372.63,169.91 372.11,172.78 371.59,173.47 371.07,171.99 370.56,180.15 370.04,179.67 369.52,177.46 369,176.86 368.48,177.78 367.96,175.53 367.44,178.63 366.92,175.52 366.4,186.88 365.88,187.46 365.36,190.37 364.84,191.17 364.32,194.81 363.81,194.28 363.29,196.3 362.77,191.83 362.25,187.74 361.73,185.38 361.21,183.98 360.69,181.64 360.17,179.58 359.65,175.11 359.13,174.68 358.61,173.03 358.09,170.37 357.58,170.2 357.06,165.95 356.54,165.51 356.02,163.98 355.5,164.94 354.98,161.19 354.46,164.15 353.94,163.98 353.42,165.85 352.9,168.96 352.38,166.99 351.86,170.04 351.34,168.54 350.83,174.92 350.31,173.7 349.79,172.77 349.27,173.37 348.75,170.67 348.23,167.09 347.71,167.74 347.19,171.91 346.67,171.2 346.15,166.79 345.63,167.21 345.11,161.65 344.6,164.47 344.08,155.31 343.56,157.46 343.04,156.93 342.52,152.62 342,158.1 341.48,156.27 340.96,159.04 340.44,160.45 339.92,158.29 339.4,157.55 338.88,160.14 338.36,154.29 337.85,157.8 337.33,155.94 336.81,158.75 336.29,156.75 335.77,156.04 335.25,159.39 334.73,160.08 334.21,162.42 333.69,154.99 333.17,145.04 332.65,143.89 332.13,141.05 331.62,144.78 331.1,150.84 330.58,154.44 330.06,157.64 329.54,164.97 329.02,163.12 328.5,168.33 327.98,176.35 327.46,185.86 326.94,183.82 326.42,180.02 325.9,185.58 325.38,177.83 324.87,180.49 324.35,181.8 323.83,180.76 323.31,182.18 322.79,185.64 322.27,189.85 321.75,194.53 321.23,204.44 320.71,212.1 320.19,215.52 319.67,218.76 319.15,219.08 318.64,216.47 318.12,219.27 317.6,219.35 317.08,217.02 316.56,219.74 316.04,222.3 315.52,223.15 315,219.49 314.48,222.75 313.96,221.83 313.44,221.41 312.92,220.45 312.4,220.72 311.89,222.47 311.37,221.37 310.85,220.52 310.33,224.31 309.81,219.57 309.29,219.14 308.77,216.88 308.25,219.54 307.73,218.64 307.21,221.86 306.69,221.74 306.17,224.55 305.66,227.63 305.14,229.41 304.62,231.86 304.1,235.4 303.58,239.45 303.06,240.25 302.54,242.9 302.02,244.13 301.5,242.72 300.98,243.5 300.46,244.74 299.94,245.2 299.42,244.83 298.91,243.54 298.39,243.01 297.87,246.14 297.35,242.13 296.83,242.89 296.31,245.22 295.79,247.3 295.27,245.28 294.75,246.65 294.23,246.5 293.71,246.98 293.19,249.63 292.68,247.76 292.16,247.41 291.64,248.07 291.12,246.68 290.6,244 290.08,244.91 289.56,245.47 289.04,244.58 288.52,247.22 288,245.51 287.48,247 286.96,245.59 286.44,243.2 285.93,239.46 285.41,239.33 284.89,236.74 284.37,236.28 283.85,236.08 283.33,233.87 282.81,234.36 282.29,237.19 281.77,237.83 281.25,240.2 280.73,239.4 280.21,237.01 279.7,235.93 279.18,236.81 278.66,237.59 278.14,233.19 277.62,234.39 277.1,233.3 276.58,234.41 276.06,234.27 275.54,232.96 275.02,235.01 274.5,236.58 273.98,234.93 273.46,234.12 272.95,230.75 272.43,234.8 271.91,237.74 271.39,242.99 270.87,247.93 270.35,247.96 269.83,246.52 269.31,250.91 268.79,252.61 268.27,253.01 267.75,253.38 267.23,253.33 266.72,255.16 266.2,258.13 265.68,257.02 265.16,257.36 264.64,256.45 264.12,256.27 263.6,256.22 263.08,254.55 262.56,256.03 262.04,255.62 261.52,258.22 261,255.41 260.48,258.05 259.97,257.42 259.45,259.25 258.93,255.54 258.41,258.86 257.89,260.76 257.37,261.14 256.85,262.74 256.33,265.99 255.81,266.22 255.29,264.06 254.77,262.48 254.25,262.38 253.74,259.31 253.22,260.79 252.7,263.14 252.18,263.48 251.66,263.91 251.14,264.51 250.62,261.1 250.1,257.19 249.58,255.82 249.06,255.39 248.54,257.41 248.02,255.03 247.5,255.11 246.99,253.69 246.47,253.55 245.95,252.33 245.43,251.93 244.91,252.8 244.39,251.4 243.87,252.04 243.35,250.39 242.83,248.84 242.31,249.53 241.79,248.67 241.27,249.72 240.76,248.56 240.24,248.65 239.72,246.7 239.2,245.37 238.68,245.36 238.16,248.53 237.64,245.26 237.12,247.65 236.6,248.74 236.08,248.47 235.56,245.4 235.04,250.46 234.52,244.96 234.01,246.06 233.49,247.98 232.97,245.25 232.45,246.08 231.93,246.71 231.41,244.52 230.89,245.31 230.37,242.24 229.85,241.19 229.33,243.21 228.81,244.14 228.29,242.78 227.78,242.88 227.26,241.8 226.74,243.23 226.22,240.75 225.7,242.54 225.18,240.45 224.66,236.5 224.14,234.81 223.62,239.55 223.1,240.63 222.58,243.36 222.06,244.03 221.54,243.39 221.03,242.42 220.51,243.83 219.99,241.58 219.47,243.19 218.95,241.74 218.43,238.62 217.91,242.03 217.39,239.45 216.87,236.99 216.35,238.6 215.83,238.11 215.31,236.77 214.8,233.15 214.28,238.1 213.76,238.19 213.24,238.56 212.72,238.31 212.2,235.72 211.68,237 211.16,234.09 210.64,234.68 210.12,233.03 209.6,232.98 209.08,233.29 208.56,232.99 208.05,233.75 207.53,235.1 207.01,236.99 206.49,235.87 205.97,236.18 205.45,232.24 204.93,231.97 204.41,232.71 203.89,229.27 203.37,229.17 202.85,229.78 202.33,228.24 201.82,227.82 201.3,226.88 200.78,227.38 200.26,227.61 199.74,226.23 199.22,225.77 198.7,225.51 198.18,223.33 197.66,220.98 197.14,219.01 196.62,214.56 196.1,214.52 195.58,217.33 195.07,214.49 194.55,214.9 194.03,215.61 193.51,215.96 192.99,215.39 192.47,220.67 191.95,224.31 191.43,226.39 190.91,228.01 190.39,225.63 189.87,226.19 189.35,222.08 188.84,221.5 188.32,222.27 187.8,227.5 187.28,228.65 186.76,230.6 186.24,230.23 185.72,228.34 185.2,228.48 184.68,228.3 184.16,228.21 183.64,228 183.12,223.16 182.6,220.44 182.09,221.51 181.57,223.79 181.05,226.85 180.53,228.89 180.01,231.24 179.49,232.56 178.97,232.44 178.45,230.62 177.93,230.43 177.41,231.1 176.89,229.61 176.37,230.33 175.86,229.98 175.34,228.73 174.82,224.74 174.3,225.77 173.78,225.97 173.26,224.52 172.74,222.89 172.22,224.08 171.7,223.13 171.18,221.73 170.66,221.5 170.14,223.99 169.62,220.9 169.11,222.26 168.59,221.58 168.07,221.65 167.55,220.99 167.03,220.59 166.51,222.15 165.99,218.86 165.47,215.57 164.95,216.44 164.43,217.36 163.91,214.96 163.39,214.92 162.88,211.73 162.36,212.36 161.84,211.8 161.32,211.5 160.8,210.53 160.28,208.96 159.76,209.18 159.24,204.27 158.72,203.39 158.2,203.99 157.68,199.79 157.16,195.19 156.64,193.44 156.13,192.78 155.61,192.77 155.09,190.17 154.57,189.78 154.05,186.66 153.53,187.61 153.01,185.57 152.49,180.58 151.97,179.59 151.45,177.4 150.93,183.96 150.41,184.55 149.9,191.26 149.38,192.32 148.86,196.04 148.34,201.19 147.82,200.34 147.3,206.01 146.78,206.99 146.26,209.53 145.74,212.9 145.22,210.66 144.7,212.12 144.18,214.77 143.66,211.58 143.15,212.37 142.63,206.64 142.11,201.64 141.59,193.6 141.07,189.57 140.55,184.55 140.03,189.13 139.51,191.92 138.99,194.98 138.47,200.14 137.95,204.29 137.43,204.46 136.92,210.28 136.4,214.7 135.88,218.13 135.36,224.05 134.84,225.42 134.32,223.68 133.8,225.26" fill="#008000" stroke="#008000" stroke-width="1" stroke-linejoin="round"/>
<polyline points="133.8,225.26 134.32,223.68 134.84,225.42 135.36,224.05 135.88,218.13 136.4,214.7 136.92,210.28 137.43,204.46 137.95,204.29 138.47,200.14 138.99,194.98 139.51,191.92 140.03,189.13 140.55,184.55 141.07,189.57 141.59,193.6 142.11,201.64 142.63,206.64 143.15,212.37 143.66,211.58 144.18,214.77 144.7,212.12 145.22,210.66 145.74,212.9 146.26,209.53 146.78,206.99 147.3,206.01 147.82,200.34 148.34,201.19 148.86,196.04 149.38,192.32 149.9,191.26 150.41,184.55 150.93,183.96 151.45,177.4 151.97,179.59 152.49,180.58 153.01,185.57 153.53,187.61 154.05,186.66 154.57,189.78 155.09,190.17 155.61,192.77 156.13,192.78 156.64,193.44 157.16,195.19 157.68,199.79 158.2,203.99 158.72,203.39 159.24,204.27 159.76,209.18 160.28,208.96 160.8,210.53 161.32,211.5 161.84,211.8 162.36,212.36 162.88,211.73 163.39,214.92 163.91,214.96 164.43,217.36 164.95,216.44 165.47,215.57 165.99,218.86 166.51,222.15 167.03,220.59 167.55,220.99 168.07,221.65 168.59,221.58 169.11,222.26 169.62,220.9 170.14,223.99 170.66,221.5 171.18,221.73 171.7,223.13 172.22,224.08 172.74,222.89 173.26,224.52 173.78,225.97 174.3,225.77 174.82,224.74 175.34,228.73 175.86,229.98 176.37,230.33 176.89,229.61 177.41,231.1 177.93,230.43 178.45,230.62 178.97,232.44 179.49,232.56 180.01,231.24 180.53,228.89 181.05,226.85 181.57,223.79 182.09,221.51 182.6,220.44 183.12,223.16 183.64,228 184.16,228.21 184.68,228.3 185.2,228.48 185.72,228.34 186.24,230.23 186.76,230.6 187.28,228.65 187.8,227.5 188.32,222.27 188.84,221.5 189.35,222.08 189.87,226.19 190.39,225.63 190.91,228.01 191.43,226.39 191.95,224.31 192.47,220.67 192.99,215.39 193.51,215.96 194.03,215.61 194.55,214.9 195.07,214.49 195.58,217.33 196.1,214.52 196.62,214.56 197.14,219.01 197.66,220.98 198.18,223.33 198.7,225.51 199.22,225.77 199.74,226.23 200.26,227.61 200.78,227.38 201.3,226.88 201.82,227.82 202.33,228.24 202.85,229.78 203.37,229.17 203.89,229.27 204.41,232.71 204.93,231.97 205.45,232.24 205.97,236.18 206.49,235.87 207.01,236.99 207.53,235.1 208.05,233.75 208.56,232.99 209.08,233.29 209.6,232.98 210.12,233.03 210.64,234.68 211.16,234.09 211.68,237 212.2,235.72 212.72,238.31 213.24,238.56 213.76,238.19 214.28,238.1 214.8,233.15 215.31,236.77 215.83,238.11 216.35,238.6 216.87,236.99 217.39,239.45 217.91,242.03 218.43,238.62 218.95,241.74 219.47,243.19 219.99,241.58 220.51,243.83 221.03,242.42 221.54,243.39 222.06,244.03 222.58,243.36 223.1,240.63 223.62,239.55 224.14,234.81 224.66,236.5 225.18,240.45 225.7,242.54 226.22,240.75 226.74,243.23 227.26,241.8 227.78,242.88 228.29,242.78 228.81,244.14 229.33,243.21 229.85,241.19 230.37,242.24 230.89,245.31 231.41,244.52 231.93,246.71 232.45,246.08 232.97,245.25 233.49,247.98 234.01,246.06 234.52,244.96 235.04,250.46 235.56,245.4 236.08,248.47 236.6,248.74 237.12,247.65 237.64,245.26 238.16,248.53 238.68,245.36 239.2,245.37 239.72,246.7 240.24,248.65 240.76,248.56 241.27,249.72 241.79,248.67 242.31,249.53 242.83,248.84 243.35,250.39 243.87,252.04 244.39,251.4 244.91,252.8 245.43,251.93 245.95,252.33 246.47,253.55 246.99,253.69 247.5,255.11 248.02,255.03 248.54,257.41 249.06,255.39 249.58,255.82 250.1,257.19 250.62,261.1 251.14,264.51 251.66,263.91 252.18,263.48 252.7,263.14 253.22,260.79 253.74,259.31 254.25,262.38 254.77,262.48 255.29,264.06 255.81,266.22 256.33,265.99 256.85,262.74 257.37,261.14 257.89,260.76 258.41,258.86 258.93,255.54 259.45,259.25 259.97,257.42 260.48,258.05 261,255.41 261.52,258.22 262.04,255.62 262.56,256.03 263.08,254.55 263.6,256.22 264.12,256.27 264.64,256.45 265.16,257.36 265.68,257.02 266.2,258.13 266.72,255.16 267.23,253.33 267.75,253.38 268.27,253.01 268.79,252.61 269.31,250.91 269.83,246.52 270.35,247.96 270.87,247.93 271.39,242.99 271.91,237.74 272.43,234.8 272.95,230.75 273.46,234.12 273.98,234.93 274.5,236.58 275.02,235.01 275.54,232.96 276.06,234.27 276.58,234.41 277.1,233.3 277.62,234.39 278.14,233.19 278.66,237.59 279.18,236.81 279.7,235.93 280.21,237.01 280.73,239.4 281.25,240.2 281.77,237.83 282.29,237.19 282.81,234.36 283.33,233.87 283.85,236.08 284.37,236.28 284.89,236.74 285.41,239.33 285.93,239.46 286.44,243.2 286.96,245.59 287.48,247 288,245.51 288.52,247.22 289.04,244.58 289.56,245.47 290.08,244.91 290.6,244 291.12,246.68 291.64,248.07 292.16,247.41 292.68,247.76 293.19,249.63 293.71,246.98 294.23,246.5 294.75,246.65 295.27,245.28 295.79,247.3 296.31,245.22 296.83,242.89 297.35,242.13 297.87,246.14 298.39,243.01 298.91,243.54 299.42,244.83 299.94,245.2 300.46,244.74 300.98,243.5 301.5,242.72 302.02,244.13 302.54,242.9 303.06,240.25 303.58,239.45 304.1,235.4 304.62,231.86 305.14,229.41 305.66,227.63 306.17,224.55 306.69,221.74 307.21,221.86 307.73,218.64 308.25,219.54 308.77,216.88 309.29,219.14 309.81,219.57 310.33,224.31 310.85,220.52 311.37,221.37 311.89,222.47 312.4,220.72 312.92,220.45 313.44,221.41 313.96,221.83 314.48,222.75 315,219.49 315.52,223.15 316.04,222.3 316.56,219.74 317.08,217.02 317.6,219.35 318.12,219.27 318.64,216.47 319.15,219.08 319.67,218.76 320.19,215.52 320.71,212.1 321.23,204.44 321.75,194.53 322.27,189.85 322.79,185.64 323.31,182.18 323.83,180.76 324.35,181.8 324.87,180.49 325.38,177.83 325.9,185.58 326.42,180.02 326.94,183.82 327.46,185.86 327.98,176.35 328.5,168.33 329.02,163.12 329.54,164.97 330.06,157.64 330.58,154.44 331.1,150.84 331.62,144.78 332.13,141.05 332.65,143.89 333.17,145.04 333.69,154.99 334.21,162.42 334.73,160.08 335.25,159.39 335.77,156.04 336.29,156.75 336.81,158.75 337.33,155.94 337.85,157.8 338.36,154.29 338.88,160.14 339.4,157.55 339.92,158.29 340.44,160.45 340.96,159.04 341.48,156.27 342,158.1 342.52,152.62 343.04,156.93 343.56,157.46 344.08,155.31 344.6,164.47 345.11,161.65 345.63,167.21 346.15,166.79 346.67,171.2 347.19,171.91 347.71,167.74 348.23,167.09 348.75,170.67 349.27,173.37 349.79,172.77 350.31,173.7 350.83,174.92 351.34,168.54 351.86,170.04 352.38,166.99 352.9,168.96 353.42,165.85 353.94,163.98 354.46,164.15 354.98,161.19 355.5,164.94 356.02,163.98 356.54,165.51 357.06,165.95 357.58,170.2 358.09,170.37 358.61,173.03 359.13,174.68 359.65,175.11 360.17,179.58 360.69,181.64 361.21,183.98 361.73,185.38 362.25,187.74 362.77,191.83 363.29,196.3 363.81,194.28 364.32,194.81 364.84,191.17 365.36,190.37 365.88,187.46 366.4,186.88 366.92,175.52 367.44,178.63 367.96,175.53 368.48,177.78 369,176.86 369.52,177.46 370.04,179.67 370.56,180.15 371.07,171.99 371.59,173.47 372.11,172.78 372.63,169.91 373.15,164.92 373.67,158.34 374.19,155.16 374.71,153.91 375.23,148.8 375.75,141.2 376.27,137.66 376.79,138.6 377.3,137.74 377.82,142.23 378.34,143.8 378.86,144.63 379.38,146.09 379.9,141.51 380.42,145.01 380.94,150.83 381.46,150.37 381.98,157.86 382.5,156.54 383.02,163.31 383.54,164.49 384.05,166.8 384.57,172.46 385.09,174.9 385.61,177.8 386.13,180.02 386.65,182.68 387.17,184.54 387.69,187.28 388.21,187.3 388.73,189.91 389.25,189.87 389.77,187.11 390.28,189.01 390.8,198.31 391.32,203.44 391.84,202.86 392.36,202.24 392.88,208.05 393.4,212.51 393.92,203.89 394.44,209.09 394.96,206.73 395.48,204.97 396,207.7 396.52,203.85 397.03,206.08 397.55,207.24 398.07,204.83 398.59,202.62 399.11,200.71 399.63,200.81 400.15,199.16 400.67,204.68 401.19,200.72 401.71,198.53 402.23,197.8 402.75,198.48 403.26,199.77 403.78,198.94 404.3,202.4 404.82,199.94 405.34,200.06 405.86,201.57 406.38,203.4 406.9,205.03 407.42,204.66 407.94,207.55 408.46,209.41 408.98,212.47 409.5,216.11 410.01,218.33 410.53,221.58 411.05,226.71 411.57,226.55 412.09,233.46 412.61,229.07 413.13,225.79 413.65,225.87 414.17,223.66 414.69,222.18 415.21,221.84 415.73,216.38 416.24,215.51 416.76,220.64 417.28,220.23 417.8,222.89 418.32,225.98 418.84,227.5 419.36,230.63 419.88,226.6 420.4,225.84 420.92,223.04 421.44,221.87 421.96,223.42 422.48,222.97 422.99,219.67 423.51,220.26 424.03,222.17 424.55,223.37 425.07,221.39 425.59,222.22 426.11,221.04 426.63,227.24 427.15,225.11 427.67,224.25 428.19,217.21 428.71,211.39 429.22,206.91 429.74,204.15 430.26,206.17 430.78,215.15 431.3,226.26 431.82,224.35 432.34,227.27 432.86,229.52 433.38,227.24 433.9,222.4 434.42,217.9 434.94,217.23 435.46,215.11 435.97,219.01 436.49,218.21 437.01,219.64 437.53,219.14 438.05,219.11 438.57,222.16 439.09,223.71 439.61,223.74 440.13,224.61 440.65,227.62 441.17,227.23 441.69,229.34 442.2,227.84 442.72,228.01 443.24,230.14 443.76,230.89 444.28,235.61 444.8,235.31 445.32,238.36 445.84,237.49 446.36,236.58 446.88,236.83 447.4,240.37 447.92,238.02 448.44,240.88 448.95,240.41 449.47,237.27 449.99,239.01 450.51,236.4 451.03,237.06 451.55,234.75 452.07,236.01 452.59,232.51 453.11,234.6 453.63,233.55 454.15,235.19 454.67,237.94 455.18,237.22 455.7,235.79 456.22,236.33 456.74,235.31 457.26,232.05 457.78,234.78 458.3,235.5 458.82,234.48 459.34,236.43 459.86,234.48 460.38,237.65 460.9,235.5 461.42,235.51 461.93,236.98 462.45,235.21 462.97,236.62 463.49,234.6 464.01,235.64 464.53,234.89 465.05,236.85 465.57,238.61 466.09,237.75 466.61,238.7 467.13,236.65 467.65,237.02 468.16,238.3 468.68,240.91 469.2,241.9 469.72,242.42 470.24,244.88 470.76,241.39 471.28,239.93 471.8,239.66 472.32,237.78 472.84,239.02 473.36,240.99 473.88,239.73 474.4,240.67 474.91,239.22 475.43,242.04 475.95,237.42 476.47,238.64 476.99,238.73 477.51,241.67 478.03,240.28 478.55,238.24 479.07,229.95 479.59,229.67 480.11,228.56 480.63,226.52 481.14,224.54 481.66,224.61 482.18,227.42 482.7,228.32 483.22,228.74 483.74,229.06 484.26,227.72 484.78,230.34 485.3,229.44 485.82,229.64 486.34,229.11 486.86,226.83 487.38,225.29 487.89,227.08 488.41,225.29 488.93,223.12 489.45,219.46 489.97,222.48 490.49,223.49 491.01,224.24 491.53,222.25 492.05,222.48 492.57,222.91 493.09,225.29 493.61,223.7 494.12,225.86 494.64,225.74 495.16,228.06 495.68,224.66 496.2,225.57 496.72,222.45 497.24,221.16 497.76,221.37 498.28,222.08 498.8,217.65 499.32,221.39 499.84,220.53 500.36,221.29 500.87,226.25 501.39,225.35 501.91,226.37 502.43,223.46 502.95,222.67 503.47,225.16 503.99,226.72 504.51,225.15 505.03,225.94 505.55,224.84 506.07,224.45 506.59,226.27 507.1,228.86 507.62,225.86 508.14,228.05 508.66,227.19 509.18,229.58 509.7,229.17 510.22,224.87 510.74,224.61 511.26,225.98 511.78,223.8 512.3,222.28 512.82,222.69 513.34,222.22 513.85,228.26 514.37,225.03 514.89,226.9 515.41,225.98 515.93,223.6 516.45,224.65 516.97,227.63 517.49,227.69 518.01,228.82 518.53,226.21 519.05,228.4 519.57,225.02 520.08,222.16 520.6,225.7 521.12,228.23 521.64,231.36 522.16,229.7 522.68,228.2 523.2,231 523.72,226.18 524.24,223.41 524.76,219.9 525.28,220.07 525.8,226.03 526.32,221.83 526.83,218.97 527.35,215.36 527.87,215.57 528.39,208.49 528.91,211.32 529.43,210.61 529.95,210.68 530.47,209.58 530.99,210.62 531.51,207.13 532.03,187.71 532.55,173.37 533.06,167.51 533.58,174.31 534.1,176.43 534.62,180.16 535.14,183.82 535.66,183.63 536.18,191.28 536.7,181.42 537.22,172.13 537.74,161.88 538.26,151.13 538.78,147.85 539.3,146.33 539.81,152.03 540.33,153.36 540.85,158.07 541.37,160.72 541.89,168.23 542.41,168.91 542.93,165.33 543.45,162.79 543.97,158.92 544.49,163.86 545.01,164.69 545.53,167.08 546.04,172.43 546.56,177.36 547.08,182.38 547.6,184.22 548.12,182.81 548.64,181.48 549.16,176.09 549.68,173.64 550.2,171.63 550.72,174.46 551.24,176.95 551.76,180.02 552.28,181.45 552.79,180.96 553.31,181.7 553.83,182.26 554.35,177.97 554.87,173.39 555.39,167.36 555.91,162.82 556.43,156.09 556.95,148.31 557.47,147.38 557.99,142.89 558.51,141.23 559.02,138.25 559.54,138.57 560.06,140.06 560.58,148.2 561.1,141.22 561.62,144.45 562.14,143.6 562.66,145.91 563.18,147.59 563.7,148.51 564.22,148.66 564.74,149.03 565.26,149.73 565.77,151.84 566.29,155.95 566.81,158.8 567.33,159.66 567.85,161.43 568.37,158.28 568.89,159.73 569.41,162.2 569.93,159.72 570.45,157.4 570.97,159.84 571.49,157.99 572,159.76 572.52,163.01 573.04,165.69 573.56,164.06 574.08,169.05 574.6,172.69 575.12,172.18 575.64,176.13 576.16,184.95 576.68,181.43 577.2,178.8 577.72,172.84 578.24,168.2 578.75,171.25 579.27,167.62 579.79,165.99 580.31,164.55 580.83,156.8 581.35,149.85 581.87,149.49 582.39,155.41 582.91,163.89 583.43,160.91 583.95,158.61 584.47,153.81 584.98,158.44 585.5,155.64 586.02,152.93 586.54,152.62 587.06,152.83 587.58,152.08 588.1,152.79 588.62,152.09 589.14,153.88 589.66,152.17 590.18,148.8 590.7,147.43 591.22,149.24 591.73,147.21 592.25,146.19 592.77,147.83 593.29,150.76 593.81,147.67 594.33,150.11 594.85,150.6 595.37,155.47 595.89,156.15 596.41,154.85 596.93,152.69 597.45,153.96 597.96,149.92 598.48,144.53 599,144.35 599.52,136.03 600.04,133.75 600.56,139.23 601.08,134.85 601.6,135.96 602.12,137.1 602.64,137.91 603.16,137.81 603.68,135.46 604.2,132.71 604.71,128.52 605.23,123.42 605.75,128.19 606.27,131.68 606.79,131.13 607.31,127.93 607.83,129.05 608.35,125.45 608.87,125.1 609.39,125.96 609.91,130.5 610.43,133.89 610.94,136.12 611.46,139.88 611.98,143.61 612.5,145.09 613.02,144.88 613.54,146.64 614.06,152.05 614.58,156.92 615.1,162.65 615.62,165.73 616.14,168.03 616.66,170.65 617.18,173.76 617.69,176.73 618.21,178.2 618.73,180.82 619.25,179.6 619.77,176.8 620.29,176.41 620.81,177.45 621.33,179.29 621.85,181.87 622.37,182.65 622.89,184.03 623.41,185.61 623.92,187.2 624.44,188.3 624.96,191.73 625.48,194.91 626,196.45 626.52,199.47 627.04,203.25 627.56,200.89 628.08,200.56 628.6,202.02 629.12,199.57 629.64,197.81 630.16,201.46 630.67,200.39 631.19,200.94 631.71,200.37 632.23,202.84 632.75,204.01 633.27,205.74 633.79,206.37 634.31,206.56 634.83,205.73 635.35,206.52 635.87,203.76 636.39,204.69 636.9,203.72 637.42,201.45 637.94,199.93 638.46,200.12 638.98,198.53 639.5,200.04 640.02,199.73 640.54,199.29 641.06,201.38 641.58,203.5 642.1,204.5 642.62,205.16 643.14,204.1 643.65,204.11 644.17,204.27 644.69,205.64 645.21,208.54 645.73,207.87 646.25,207.91 646.77,207.41 647.29,203.1 647.81,206.48 648.33,207.71 648.85,211.62 649.37,213.39 649.88,210.85 650.4,212.42 650.92,212.45 651.44,209.62 651.96,207.89 652.48,206.4 653,210.12 653.52,209.74 654.04,214.05 654.56,214.32 655.08,216.43 655.6,218.7 656.12,217.3 656.63,219.01 657.15,222.28 657.67,221.7 658.19,222.23 658.71,223.11 659.23,223.61 659.75,222.27 660.27,221.82 660.79,221.66 661.31,220.22 661.83,210.12 662.35,211.59 662.86,209.62 663.38,205.27 663.9,204.3 664.42,209.89 664.94,211.11 665.46,211.77 665.98,207.3 666.5,198.08 667.02,193.97 667.54,189.84 668.06,190.76 668.58,192.03 669.1,198.73 669.61,201.35 670.13,202.08 670.65,208.27 671.17,205.86 671.69,203.63 672.21,199.22 672.73,201.24 673.25,200.2 673.77,202 674.29,202.06 674.81,204.09 675.33,205.36 675.84,203.73 676.36,204.82 676.88,204.66 677.4,202.01 677.92,200.78 678.44,201.07 678.96,201.06 679.48,204.5 680,203.19 680.52,206.93 681.04,208.63 681.56,206.2 682.08,208.64 682.59,207.02 683.11,205.46 683.63,205.89 684.15,207.01 684.67,209.28 685.19,210.83 685.71,208.04 686.23,208.25 686.75,208.56 687.27,208.49 687.79,204.73 688.31,209.13 688.82,207.72 689.34,210.8 689.86,209.69 690.38,210.61 690.9,213.49 691.42,215.47 691.94,214.11 692.46,210.97 692.98,216.16 693.5,213.47 694.02,232.59 694.54,266.4 695.06,218.37 695.57,219.54 696.09,220.36 696.61,221.73 697.13,224.47 697.65,225.94 698.17,225.16 698.69,226.93 699.21,226.98 699.73,224.09 700.25,223.25 700.77,224.17 701.29,224.84 701.8,225.73 702.32,226.45 702.84,224 703.36,223.78 703.88,226.11 704.4,226.01 704.92,227.4 705.44,222.91 705.96,228.24 706.48,223.31 707,233.26 707.52,229.55 708.04,227.45 708.55,225.05 709.07,226.9 709.59,224.42 710.11,226.59 710.63,225.98 711.15,225.89 711.67,226.22 712.19,226.05 712.71,224.95 713.23,227.15 713.75,226.97 714.27,225.76 714.78,226.53 715.3,226.73 715.82,224.59 716.34,226.5 716.86,226.65 717.38,226.6 717.9,228.62 718.42,227.43 718.94,228.13 719.46,229.1 719.98,229.42 720.5,229.07 721.02,230.18 721.53,226.05 722.05,225.9 722.57,223.68 723.09,225.37 723.61,226.29 724.13,227.08 724.65,225.75 725.17,226.92 725.69,230.04 726.21,230 726.73,231.92 727.25,229.12 727.76,231.26 728.28,230.34 728.8,230.35 729.32,229.74 729.84,231.22 730.36,232.21 730.88,232.73 731.4,232.72 731.92,233 732.44,233.85 732.96,235.11 733.48,231.17 734,231.67 734.51,231.28 735.03,232.14 735.55,231.42 736.07,234.37 736.59,234.3 737.11,234.35 737.63,233.08 738.15,233.14 738.67,232.3 739.19,231.6 739.71,230.32 740.23,232.04 740.74,229.91 741.26,233.1 741.78,228.56 742.3,231.69 742.82,231.42 743.34,234.01 743.86,231.9 744.38,236.19 744.9,233.35 745.42,238.15 745.94,237.28 746.46,237.24 746.98,237.04 747.49,238.32 748.01,236.24 748.53,232.26 749.05,237.02 749.57,236.96 750.09,235.9 750.61,239.59 751.13,237.65 751.65,239.06 752.17,238.85 752.69,237.61 753.21,237.32 753.72,233.62 754.24,233.2 754.76,230.91 755.28,230.51 755.8,231.99" fill="none" stroke="#ff0000" stroke-width="2.7" stroke-linejoin="round" stroke-linecap="square"/>
<polyline points="756.09,229.91 849.51,188.36 945.52,176.17 1134.94,222.02" fill="none" stroke="#0000dc" stroke-width="2.0" stroke-linejoin="round" stroke-linecap="square"/>
</g>
<rect x="84.5" y="70.5" width="1101" height="207" fill="none" stroke="#000" stroke-width="1" shape-rendering="crispEdges"/>
<path d="M169,278h1v4.5h-1zM358,278h1v4.5h-1zM548,278h1v4.5h-1zM737,278h1v4.5h-1zM927,278h1v4.5h-1zM1116,278h1v4.5h-1zM84,79v1h-4.5v-1zM84,132v1h-4.5v-1zM84,185v1h-4.5v-1zM84,238v1h-4.5v-1z" fill="#000"/>
<text transform="translate(151.42,297.61)" font-size="14.65" fill="#000"><tspan x="0" textLength="34.71" lengthAdjust="spacingAndGlyphs">2023</tspan></text>
<text transform="translate(340.84,297.61)" font-size="14.65" fill="#000"><tspan x="0" textLength="34.71" lengthAdjust="spacingAndGlyphs">2024</tspan></text>
<text transform="translate(530.79,297.61)" font-size="14.65" fill="#000"><tspan x="0" textLength="34.71" lengthAdjust="spacingAndGlyphs">2025</tspan></text>
<text transform="translate(720.15,297.61)" font-size="14.65" fill="#000"><tspan x="0" textLength="34.71" lengthAdjust="spacingAndGlyphs">2026</tspan></text>
<text transform="translate(909.64,297.61)" font-size="14.65" fill="#000"><tspan x="0" textLength="34.71" lengthAdjust="spacingAndGlyphs">2027</tspan></text>
<text transform="translate(1099,297.61)" font-size="14.65" fill="#000"><tspan x="0" textLength="34.71" lengthAdjust="spacingAndGlyphs">2028</tspan></text>
<text transform="translate(34.98,244)" font-size="14.65" fill="#000"><tspan x="0" textLength="39.12" lengthAdjust="spacingAndGlyphs">0.004</tspan></text>
<text transform="translate(34.86,191)" font-size="14.65" fill="#000"><tspan x="0" textLength="39.12" lengthAdjust="spacingAndGlyphs">0.006</tspan></text>
<text transform="translate(34.86,138)" font-size="14.65" fill="#000"><tspan x="0" textLength="39.12" lengthAdjust="spacingAndGlyphs">0.008</tspan></text>
<text transform="translate(34.86,85)" font-size="14.65" fill="#000"><tspan x="0" textLength="39.12" lengthAdjust="spacingAndGlyphs">0.010</tspan></text>
<text transform="translate(617.5,317.17)" font-size="14.65" fill="#000"><tspan x="0" textLength="32.56" lengthAdjust="spacingAndGlyphs">Date</tspan></text>
<text transform="translate(26,193.15) rotate(-90)" font-size="14.65" fill="#000"><tspan x="0" textLength="33.24" lengthAdjust="spacingAndGlyphs">Price</tspan></text>
<rect x="91.5" y="77.5" width="136" height="130" rx="2.8" fill="#fff" fill-opacity="0.8" stroke="#ccc" stroke-opacity="0.8" stroke-width="1.39"/>
<rect x="95" y="88" width="30" height="2" fill="#147814"/>
<text transform="translate(135.47,93.83)" font-size="14.65" fill="#000"><tspan x="0" textLength="31.29" lengthAdjust="spacingAndGlyphs">High</tspan></text>
<rect x="95" y="109" width="30" height="2" fill="#d01414"/>
<text transform="translate(135.47,114.78)" font-size="14.65" fill="#000"><tspan x="0" textLength="26.72" lengthAdjust="spacingAndGlyphs">Low</tspan></text>
<rect x="95" y="130" width="30" height="2" fill="#0808c0"/>
<text transform="translate(135.47,135.72)" font-size="14.65" fill="#000"><tspan x="0" textLength="37.2" lengthAdjust="spacingAndGlyphs">Close</tspan></text>
<rect x="96" y="147" width="28" height="10" fill="#bfdfbf"/>
<text transform="translate(135.47,156.67)" font-size="14.65" fill="#000"><tspan x="0" textLength="31.29" lengthAdjust="spacingAndGlyphs">High</tspan> <tspan x="36.3" textLength="43.43" lengthAdjust="spacingAndGlyphs">Range</tspan></text>
<rect x="96" y="168" width="28" height="10" fill="#ffbfbf"/>
<text transform="translate(135.47,177.61)" font-size="14.65" fill="#000"><tspan x="0" textLength="26.72" lengthAdjust="spacingAndGlyphs">Low</tspan> <tspan x="31.73" textLength="43.43" lengthAdjust="spacingAndGlyphs">Range</tspan></text>
<rect x="96" y="189" width="28" height="10" fill="#7f7fff"/>
<text transform="translate(135.47,198.56)" font-size="14.65" fill="#000"><tspan x="0" textLength="37.2" lengthAdjust="spacingAndGlyphs">Close</tspan> <tspan x="42.21" textLength="43.43" lengthAdjust="spacingAndGlyphs">Range</tspan></text>
<g clip-path="url(#c1)">
<polygon points="133.83,498 380.68,403.21 634.39,364.83 1134.94,344.52 1134.94,448.51 634.39,442.92 380.68,455.41 133.83,498" fill="#bfdfbf"/>
<polygon points="133.83,500.99 380.68,463.81 634.39,461.12 1134.94,489.91 1134.94,531.52 634.39,525 380.68,509.71 133.83,498" fill="#ffbfbf"/>
<polygon points="133.83,498 380.68,455.41 634.39,442.92 1134.94,448.51 1134.94,489.91 634.39,461.12 380.68,463.81 133.83,500.99" fill="#7f7fff"/>
<path d="M208.5,336V542M333.5,336V542M459.5,336V542M585.5,336V542M708.5,336V542M833.5,336V542M959.5,336V542M1086.5,336V542M85,343.5H1185M85,398.5H1185M85,452.5H1185M85,506.5H1185" stroke="#b0b0b0" stroke-width="1" fill="none" shape-rendering="crispEdges"/>
<polyline points="133.83,498 380.68,455.41 634.39,442.92 1134.94,489.91" fill="none" stroke="#0000dc" stroke-width="2.0" stroke-linejoin="round" stroke-linecap="square"/>
</g>
<rect x="84.5" y="335.5" width="1101" height="207" fill="none" stroke="#000" stroke-width="1" shape-rendering="crispEdges"/>
<path d="M84,543h1v4.5h-1zM208,543h1v4.5h-1zM333,543h1v4.5h-1zM459,543h1v4.5h-1zM585,543h1v4.5h-1zM708,543h1v4.5h-1zM833,543h1v4.5h-1zM959,543h1v4.5h-1zM1086,543h1v4.5h-1zM84,343v1h-4.5v-1zM84,398v1h-4.5v-1zM84,452v1h-4.5v-1zM84,506v1h-4.5v-1z" fill="#000"/>
<text transform="translate(55.95,562.44)" font-size="14.65" fill="#000"><tspan x="0" textLength="57.37" lengthAdjust="spacingAndGlyphs">2026-01</tspan></text>
<text transform="translate(179.44,562.44)" font-size="14.65" fill="#000"><tspan x="0" textLength="57.37" lengthAdjust="spacingAndGlyphs">2026-04</tspan></text>
<text transform="translate(304.23,562.44)" font-size="14.65" fill="#000"><tspan x="0" textLength="57.37" lengthAdjust="spacingAndGlyphs">2026-07</tspan></text>
<text transform="translate(430.34,562.44)" font-size="14.65" fill="#000"><tspan x="0" textLength="57.37" lengthAdjust="spacingAndGlyphs">2026-10</tspan></text>
<text transform="translate(556.57,562.44)" font-size="14.65" fill="#000"><tspan x="0" textLength="57.37" lengthAdjust="spacingAndGlyphs">2027-01</tspan></text>
<text transform="translate(680.06,562.44)" font-size="14.65" fill="#000"><tspan x="0" textLength="57.37" lengthAdjust="spacingAndGlyphs">2027-04</tspan></text>
<text transform="translate(804.85,562.44)" font-size="14.65" fill="#000"><tspan x="0" textLength="57.37" lengthAdjust="spacingAndGlyphs">2027-07</tspan></text>
<text transform="translate(930.96,562.44)" font-size="14.65" fill="#000"><tspan x="0" textLength="57.37" lengthAdjust="spacingAndGlyphs">2027-10</tspan></text>
<text transform="translate(1057.06,562.44)" font-size="14.65" fill="#000"><tspan x="0" textLength="57.37" lengthAdjust="spacingAndGlyphs">2028-01</tspan></text>
<text transform="translate(34.98,512.3)" font-size="14.65" fill="#000"><tspan x="0" textLength="39.12" lengthAdjust="spacingAndGlyphs">0.004</tspan></text>
<text transform="translate(34.86,457.98)" font-size="14.65" fill="#000"><tspan x="0" textLength="39.12" lengthAdjust="spacingAndGlyphs">0.006</tspan></text>
<text transform="translate(34.86,403.66)" font-size="14.65" fill="#000"><tspan x="0" textLength="39.12" lengthAdjust="spacingAndGlyphs">0.008</tspan></text>
<text transform="translate(34.86,349.34)" font-size="14.65" fill="#000"><tspan x="0" textLength="39.12" lengthAdjust="spacingAndGlyphs">0.010</tspan></text>
<text transform="translate(617.5,582)" font-size="14.65" fill="#000"><tspan x="0" textLength="32.56" lengthAdjust="spacingAndGlyphs">Date</tspan></text>
<text transform="translate(26,457.98) rotate(-90)" font-size="14.65" fill="#000"><tspan x="0" textLength="33.24" lengthAdjust="spacingAndGlyphs">Price</tspan></text>
<rect x="91.5" y="342.5" width="136" height="130" rx="2.8" fill="#fff" fill-opacity="0.8" stroke="#ccc" stroke-opacity="0.8" stroke-width="1.39"/>
<rect x="95" y="353" width="30" height="2" fill="#147814"/>
<text transform="translate(135.47,358.67)" font-size="14.65" fill="#000"><tspan x="0" textLength="31.29" lengthAdjust="spacingAndGlyphs">High</tspan></text>
<rect x="95" y="374" width="30" height="2" fill="#d01414"/>
<text transform="translate(135.47,379.61)" font-size="14.65" fill="#000"><tspan x="0" textLength="26.72" lengthAdjust="spacingAndGlyphs">Low</tspan></text>
<rect x="95" y="395" width="30" height="2" fill="#0808c0"/>
<text transform="translate(135.47,400.56)" font-size="14.65" fill="#000"><tspan x="0" textLength="37.2" lengthAdjust="spacingAndGlyphs">Close</tspan></text>
<rect x="96" y="412" width="28" height="10" fill="#bfdfbf"/>
<text transform="translate(135.47,421.5)" font-size="14.65" fill="#000"><tspan x="0" textLength="31.29" lengthAdjust="spacingAndGlyphs">High</tspan> <tspan x="36.3" textLength="43.43" lengthAdjust="spacingAndGlyphs">Range</tspan></text>
<rect x="96" y="433" width="28" height="9" fill="#ffbfbf"/>
<text transform="translate(135.47,442.44)" font-size="14.65" fill="#000"><tspan x="0" textLength="26.72" lengthAdjust="spacingAndGlyphs">Low</tspan> <tspan x="31.73" textLength="43.43" lengthAdjust="spacingAndGlyphs">Range</tspan></text>
<rect x="96" y="454" width="28" height="9" fill="#7f7fff"/>
<text transform="translate(135.47,463.39)" font-size="14.65" fill="#000"><tspan x="0" textLength="37.2" lengthAdjust="spacingAndGlyphs">Close</tspan> <tspan x="42.21" textLength="43.43" lengthAdjust="spacingAndGlyphs">Range</tspan></text>
<text transform="translate(289,61.5)" font-size="17.58" fill="#000" stroke="#000" stroke-width="0.02"><tspan x="0" textLength="71.19" lengthAdjust="spacingAndGlyphs">powered</tspan> <tspan x="77.08" textLength="19.79" lengthAdjust="spacingAndGlyphs">by</tspan> <tspan x="102.75" textLength="144.08" lengthAdjust="spacingAndGlyphs">Predict-Price.com</tspan> <tspan x="252.72" textLength="30.68" lengthAdjust="spacingAndGlyphs">and</tspan> <tspan x="289.28" textLength="186.46" lengthAdjust="spacingAndGlyphs">MagicalPrediction.com</tspan> <tspan x="481.63" textLength="30.68" lengthAdjust="spacingAndGlyphs">and</tspan> <tspan x="518.19" textLength="172.34" lengthAdjust="spacingAndGlyphs">MagicalAnalysis.com</tspan></text>
<text transform="translate(291.18,26)" font-size="17.58" fill="#000" stroke="#000" stroke-width="0.02"><tspan x="0" textLength="36.9" lengthAdjust="spacingAndGlyphs">LINK</tspan> <tspan x="42.79" textLength="32.56" lengthAdjust="spacingAndGlyphs">ETH</tspan> <tspan x="81.23" textLength="87.29" lengthAdjust="spacingAndGlyphs">(LINK-ETH)</tspan> <tspan x="174.4" textLength="35.28" lengthAdjust="spacingAndGlyphs">long</tspan> <tspan x="215.57" textLength="38.93" lengthAdjust="spacingAndGlyphs">term</tspan> <tspan x="260.38" textLength="40.78" lengthAdjust="spacingAndGlyphs">price</tspan> <tspan x="307.04" textLength="82.8" lengthAdjust="spacingAndGlyphs">prediction</tspan> <tspan x="395.72" textLength="5" lengthAdjust="spacingAndGlyphs">:</tspan> <tspan x="406.61" textLength="136.9" lengthAdjust="spacingAndGlyphs">2026,2027,2028</tspan> <tspan x="549.39" textLength="35.35" lengthAdjust="spacingAndGlyphs">(Feb</tspan> <tspan x="590.63" textLength="27.04" lengthAdjust="spacingAndGlyphs">06)</tspan></text>
<text transform="translate(219.36,162.9)" font-size="43.96" fill="#808080" fill-opacity="0.1"><tspan x="0" textLength="24.35" lengthAdjust="spacingAndGlyphs">P</tspan><tspan x="24.35" textLength="16.24" lengthAdjust="spacingAndGlyphs">r</tspan><tspan x="40.59" textLength="25.61" lengthAdjust="spacingAndGlyphs">e</tspan><tspan x="66.2" textLength="26.42" lengthAdjust="spacingAndGlyphs">d</tspan><tspan x="92.62" textLength="11.56" lengthAdjust="spacingAndGlyphs">i</tspan><tspan x="104.19" textLength="22.89" lengthAdjust="spacingAndGlyphs">c</tspan><tspan x="127.07" textLength="16.32" lengthAdjust="spacingAndGlyphs">t</tspan><tspan x="143.39" textLength="15.02" lengthAdjust="spacingAndGlyphs">-</tspan><tspan x="158.41" textLength="24.35" lengthAdjust="spacingAndGlyphs">P</tspan><tspan x="182.76" textLength="17.11" lengthAdjust="spacingAndGlyphs">r</tspan><tspan x="199.88" textLength="11.56" lengthAdjust="spacingAndGlyphs">i</tspan><tspan x="211.44" textLength="22.89" lengthAdjust="spacingAndGlyphs">c</tspan><tspan x="234.33" textLength="25.61" lengthAdjust="spacingAndGlyphs">e</tspan><tspan x="259.94" textLength="13.23" lengthAdjust="spacingAndGlyphs">.</tspan><tspan x="273.17" textLength="22.89" lengthAdjust="spacingAndGlyphs">c</tspan><tspan x="296.05" textLength="25.47" lengthAdjust="spacingAndGlyphs">o</tspan><tspan x="321.52" textLength="40.55" lengthAdjust="spacingAndGlyphs">m</tspan></text>
<text transform="translate(619.36,162.9)" font-size="43.96" fill="#808080" fill-opacity="0.1"><tspan x="0" textLength="24.35" lengthAdjust="spacingAndGlyphs">P</tspan><tspan x="24.35" textLength="16.24" lengthAdjust="spacingAndGlyphs">r</tspan><tspan x="40.59" textLength="25.61" lengthAdjust="spacingAndGlyphs">e</tspan><tspan x="66.2" textLength="26.42" lengthAdjust="spacingAndGlyphs">d</tspan><tspan x="92.62" textLength="11.56" lengthAdjust="spacingAndGlyphs">i</tspan><tspan x="104.19" textLength="22.89" lengthAdjust="spacingAndGlyphs">c</tspan><tspan x="127.07" textLength="16.32" lengthAdjust="spacingAndGlyphs">t</tspan><tspan x="143.39" textLength="15.02" lengthAdjust="spacingAndGlyphs">-</tspan><tspan x="158.41" textLength="24.35" lengthAdjust="spacingAndGlyphs">P</tspan><tspan x="182.76" textLength="17.11" lengthAdjust="spacingAndGlyphs">r</tspan><tspan x="199.88" textLength="11.56" lengthAdjust="spacingAndGlyphs">i</tspan><tspan x="211.44" textLength="22.89" lengthAdjust="spacingAndGlyphs">c</tspan><tspan x="234.33" textLength="25.61" lengthAdjust="spacingAndGlyphs">e</tspan><tspan x="259.94" textLength="13.23" lengthAdjust="spacingAndGlyphs">.</tspan><tspan x="273.17" textLength="22.89" lengthAdjust="spacingAndGlyphs">c</tspan><tspan x="296.05" textLength="25.47" lengthAdjust="spacingAndGlyphs">o</tspan><tspan x="321.52" textLength="40.55" lengthAdjust="spacingAndGlyphs">m</tspan></text>
<text transform="translate(219.36,312.9)" font-size="43.96" fill="#808080" fill-opacity="0.1"><tspan x="0" textLength="24.35" lengthAdjust="spacingAndGlyphs">P</tspan><tspan x="24.35" textLength="16.24" lengthAdjust="spacingAndGlyphs">r</tspan><tspan x="40.59" textLength="25.61" lengthAdjust="spacingAndGlyphs">e</tspan><tspan x="66.2" textLength="26.42" lengthAdjust="spacingAndGlyphs">d</tspan><tspan x="92.62" textLength="11.56" lengthAdjust="spacingAndGlyphs">i</tspan><tspan x="104.19" textLength="22.89" lengthAdjust="spacingAndGlyphs">c</tspan><tspan x="127.07" textLength="16.32" lengthAdjust="spacingAndGlyphs">t</tspan><tspan x="143.39" textLength="15.02" lengthAdjust="spacingAndGlyphs">-</tspan><tspan x="158.41" textLength="24.35" lengthAdjust="spacingAndGlyphs">P</tspan><tspan x="182.76" textLength="17.11" lengthAdjust="spacingAndGlyphs">r</tspan><tspan x="199.88" textLength="11.56" lengthAdjust="spacingAndGlyphs">i</tspan><tspan x="211.44" textLength="22.89" lengthAdjust="spacingAndGlyphs">c</tspan><tspan x="234.33" textLength="25.61" lengthAdjust="spacingAndGlyphs">e</tspan><tspan x="259.94" textLength="13.23" lengthAdjust="spacingAndGlyphs">.</tspan><tspan x="273.17" textLength="22.89" lengthAdjust="spacingAndGlyphs">c</tspan><tspan x="296.05" textLength="25.47" lengthAdjust="spacingAndGlyphs">o</tspan><tspan x="321.52" textLength="40.55" lengthAdjust="spacingAndGlyphs">m</tspan></text>
<text transform="translate(619.36,312.9)" font-size="43.96" fill="#808080" fill-opacity="0.1"><tspan x="0" textLength="24.35" lengthAdjust="spacingAndGlyphs">P</tspan><tspan x="24.35" textLength="16.24" lengthAdjust="spacingAndGlyphs">r</tspan><tspan x="40.59" textLength="25.61" lengthAdjust="spacingAndGlyphs">e</tspan><tspan x="66.2" textLength="26.42" lengthAdjust="spacingAndGlyphs">d</tspan><tspan x="92.62" textLength="11.56" lengthAdjust="spacingAndGlyphs">i</tspan><tspan x="104.19" textLength="22.89" lengthAdjust="spacingAndGlyphs">c</tspan><tspan x="127.07" textLength="16.32" lengthAdjust="spacingAndGlyphs">t</tspan><tspan x="143.39" textLength="15.02" lengthAdjust="spacingAndGlyphs">-</tspan><tspan x="158.41" textLength="24.35" lengthAdjust="spacingAndGlyphs">P</tspan><tspan x="182.76" textLength="17.11" lengthAdjust="spacingAndGlyphs">r</tspan><tspan x="199.88" textLength="11.56" lengthAdjust="spacingAndGlyphs">i</tspan><tspan x="211.44" textLength="22.89" lengthAdjust="spacingAndGlyphs">c</tspan><tspan x="234.33" textLength="25.61" lengthAdjust="spacingAndGlyphs">e</tspan><tspan x="259.94" textLength="13.23" lengthAdjust="spacingAndGlyphs">.</tspan><tspan x="273.17" textLength="22.89" lengthAdjust="spacingAndGlyphs">c</tspan><tspan x="296.05" textLength="25.47" lengthAdjust="spacingAndGlyphs">o</tspan><tspan x="321.52" textLength="40.55" lengthAdjust="spacingAndGlyphs">m</tspan></text>
<text transform="translate(219.36,462.9)" font-size="43.96" fill="#808080" fill-opacity="0.1"><tspan x="0" textLength="24.35" lengthAdjust="spacingAndGlyphs">P</tspan><tspan x="24.35" textLength="16.24" lengthAdjust="spacingAndGlyphs">r</tspan><tspan x="40.59" textLength="25.61" lengthAdjust="spacingAndGlyphs">e</tspan><tspan x="66.2" textLength="26.42" lengthAdjust="spacingAndGlyphs">d</tspan><tspan x="92.62" textLength="11.56" lengthAdjust="spacingAndGlyphs">i</tspan><tspan x="104.19" textLength="22.89" lengthAdjust="spacingAndGlyphs">c</tspan><tspan x="127.07" textLength="16.32" lengthAdjust="spacingAndGlyphs">t</tspan><tspan x="143.39" textLength="15.02" lengthAdjust="spacingAndGlyphs">-</tspan><tspan x="158.41" textLength="24.35" lengthAdjust="spacingAndGlyphs">P</tspan><tspan x="182.76" textLength="17.11" lengthAdjust="spacingAndGlyphs">r</tspan><tspan x="199.88" textLength="11.56" lengthAdjust="spacingAndGlyphs">i</tspan><tspan x="211.44" textLength="22.89" lengthAdjust="spacingAndGlyphs">c</tspan><tspan x="234.33" textLength="25.61" lengthAdjust="spacingAndGlyphs">e</tspan><tspan x="259.94" textLength="13.23" lengthAdjust="spacingAndGlyphs">.</tspan><tspan x="273.17" textLength="22.89" lengthAdjust="spacingAndGlyphs">c</tspan><tspan x="296.05" textLength="25.47" lengthAdjust="spacingAndGlyphs">o</tspan><tspan x="321.52" textLength="40.55" lengthAdjust="spacingAndGlyphs">m</tspan></text>
<text transform="translate(619.36,462.9)" font-size="43.96" fill="#808080" fill-opacity="0.1"><tspan x="0" textLength="24.35" lengthAdjust="spacingAndGlyphs">P</tspan><tspan x="24.35" textLength="16.24" lengthAdjust="spacingAndGlyphs">r</tspan><tspan x="40.59" textLength="25.61" lengthAdjust="spacingAndGlyphs">e</tspan><tspan x="66.2" textLength="26.42" lengthAdjust="spacingAndGlyphs">d</tspan><tspan x="92.62" textLength="11.56" lengthAdjust="spacingAndGlyphs">i</tspan><tspan x="104.19" textLength="22.89" lengthAdjust="spacingAndGlyphs">c</tspan><tspan x="127.07" textLength="16.32" lengthAdjust="spacingAndGlyphs">t</tspan><tspan x="143.39" textLength="15.02" lengthAdjust="spacingAndGlyphs">-</tspan><tspan x="158.41" textLength="24.35" lengthAdjust="spacingAndGlyphs">P</tspan><tspan x="182.76" textLength="17.11" lengthAdjust="spacingAndGlyphs">r</tspan><tspan x="199.88" textLength="11.56" lengthAdjust="spacingAndGlyphs">i</tspan><tspan x="211.44" textLength="22.89" lengthAdjust="spacingAndGlyphs">c</tspan><tspan x="234.33" textLength="25.61" lengthAdjust="spacingAndGlyphs">e</tspan><tspan x="259.94" textLength="13.23" lengthAdjust="spacingAndGlyphs">.</tspan><tspan x="273.17" textLength="22.89" lengthAdjust="spacingAndGlyphs">c</tspan><tspan x="296.05" textLength="25.47" lengthAdjust="spacingAndGlyphs">o</tspan><tspan x="321.52" textLength="40.55" lengthAdjust="spacingAndGlyphs">m</tspan></text>
</svg>
</body></html>
